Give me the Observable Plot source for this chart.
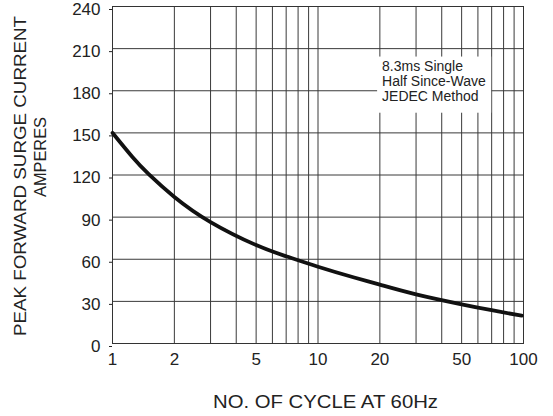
<!DOCTYPE html>
<html>
<head>
<meta charset="utf-8">
<script src="https://cdn.jsdelivr.net/npm/d3@7"></script>
<script src="https://cdn.jsdelivr.net/npm/@observablehq/plot@0.6"></script>
<style>
  html, body { margin: 0; padding: 0; background: #fff; }
  #chart { width: 553px; height: 416px; }
</style>
</head>
<body>
<div id="chart"></div>
<script>
// ---- data ----
const cycles = [1, 1.25, 1.5, 2, 3, 5, 7, 10, 15, 20, 30, 50, 70, 98];
const amps   = [150, 132.8, 120.6, 104.4, 86.5, 70.1, 62.1, 54.7, 47, 41.9, 35, 27.9, 23.7, 19.8];

const xTicks = [1, 2, 5, 10, 20, 50, 100];
const xGrid  = [2, 3, 4, 5, 6, 7, 8, 9, 10, 20, 30, 40, 50, 60, 70, 80, 90];
const yTicks = [0, 30, 60, 90, 120, 150, 180, 210, 240];
const yGrid  = [30, 60, 90, 120, 150, 180, 210];

const noteText = "8.3ms Single\nHalf Since-Wave\nJEDEC Method";
const noteBox  = {x1: 19.5, x2: 70, y1: 164, y2: 204};
const noteAt   = {x: 20.5, y: 201.5};

const yTitle1 = "PEAK FORWARD SURGE CURRENT";
const yTitle2 = "AMPERES";
const xTitle  = "NO. OF CYCLE AT 60Hz";

const curve = cycles.map((c, i) => ({c, a: amps[i]}));
const gridColor = "#3a3a3a";

const plot = Plot.plot({
  width: 553,
  height: 416,
  marginLeft: 112,
  marginRight: 30,
  marginTop: 6,
  marginBottom: 73,
  style: {fontFamily: "'Liberation Sans', Arial, sans-serif", fontSize: "17px", background: "#fff", color: "#222"},
  x: {type: "log", domain: [1, 100]},
  y: {domain: [0, 240]},
  marks: [
    Plot.ruleX(xGrid, {stroke: gridColor, strokeWidth: 1}),
    Plot.ruleY(yGrid, {stroke: gridColor, strokeWidth: 1}),
    Plot.rect([noteBox], {x1: "x1", x2: "x2", y1: "y1", y2: "y2", fill: "#fff"}),
    Plot.text([noteAt], {x: "x", y: "y", text: () => noteText, textAnchor: "start", lineAnchor: "top",
      fontSize: 14, lineHeight: 1.07, fill: "#222", style: "letter-spacing:0.8px"}),
    Plot.frame({stroke: "#333", strokeWidth: 1}),
    Plot.axisX({ticks: xTicks, tickFormat: d => String(d), tickSize: 0, tickPadding: 9, label: null, fontSize: 17}),
    Plot.axisY({ticks: yTicks, tickSize: 3, tickPadding: 9, label: null, fontSize: 17, dy: 3}),
    Plot.line(curve, {x: "c", y: "a", stroke: "#111", strokeWidth: 3.8, curve: "natural"})
  ]
});

document.getElementById("chart").appendChild(plot);

const svg = d3.select(plot);
svg.append("text")
  .attr("transform", "translate(26,176) rotate(-90)")
  .attr("text-anchor", "middle")
  .attr("font-size", 16)
  .attr("fill", "#222")
  .attr("textLength", 320)
  .attr("lengthAdjust", "spacingAndGlyphs")
  .text(yTitle1);
svg.append("text")
  .attr("transform", "translate(46,157) rotate(-90)")
  .attr("text-anchor", "middle")
  .attr("font-size", 16)
  .attr("fill", "#222")
  .attr("textLength", 80)
  .attr("lengthAdjust", "spacingAndGlyphs")
  .text(yTitle2);
svg.append("text")
  .attr("x", 325.5)
  .attr("y", 408)
  .attr("text-anchor", "middle")
  .attr("font-size", 18)
  .attr("fill", "#222")
  .attr("textLength", 225)
  .attr("lengthAdjust", "spacingAndGlyphs")
  .text(xTitle);
</script>
</body>
</html>
